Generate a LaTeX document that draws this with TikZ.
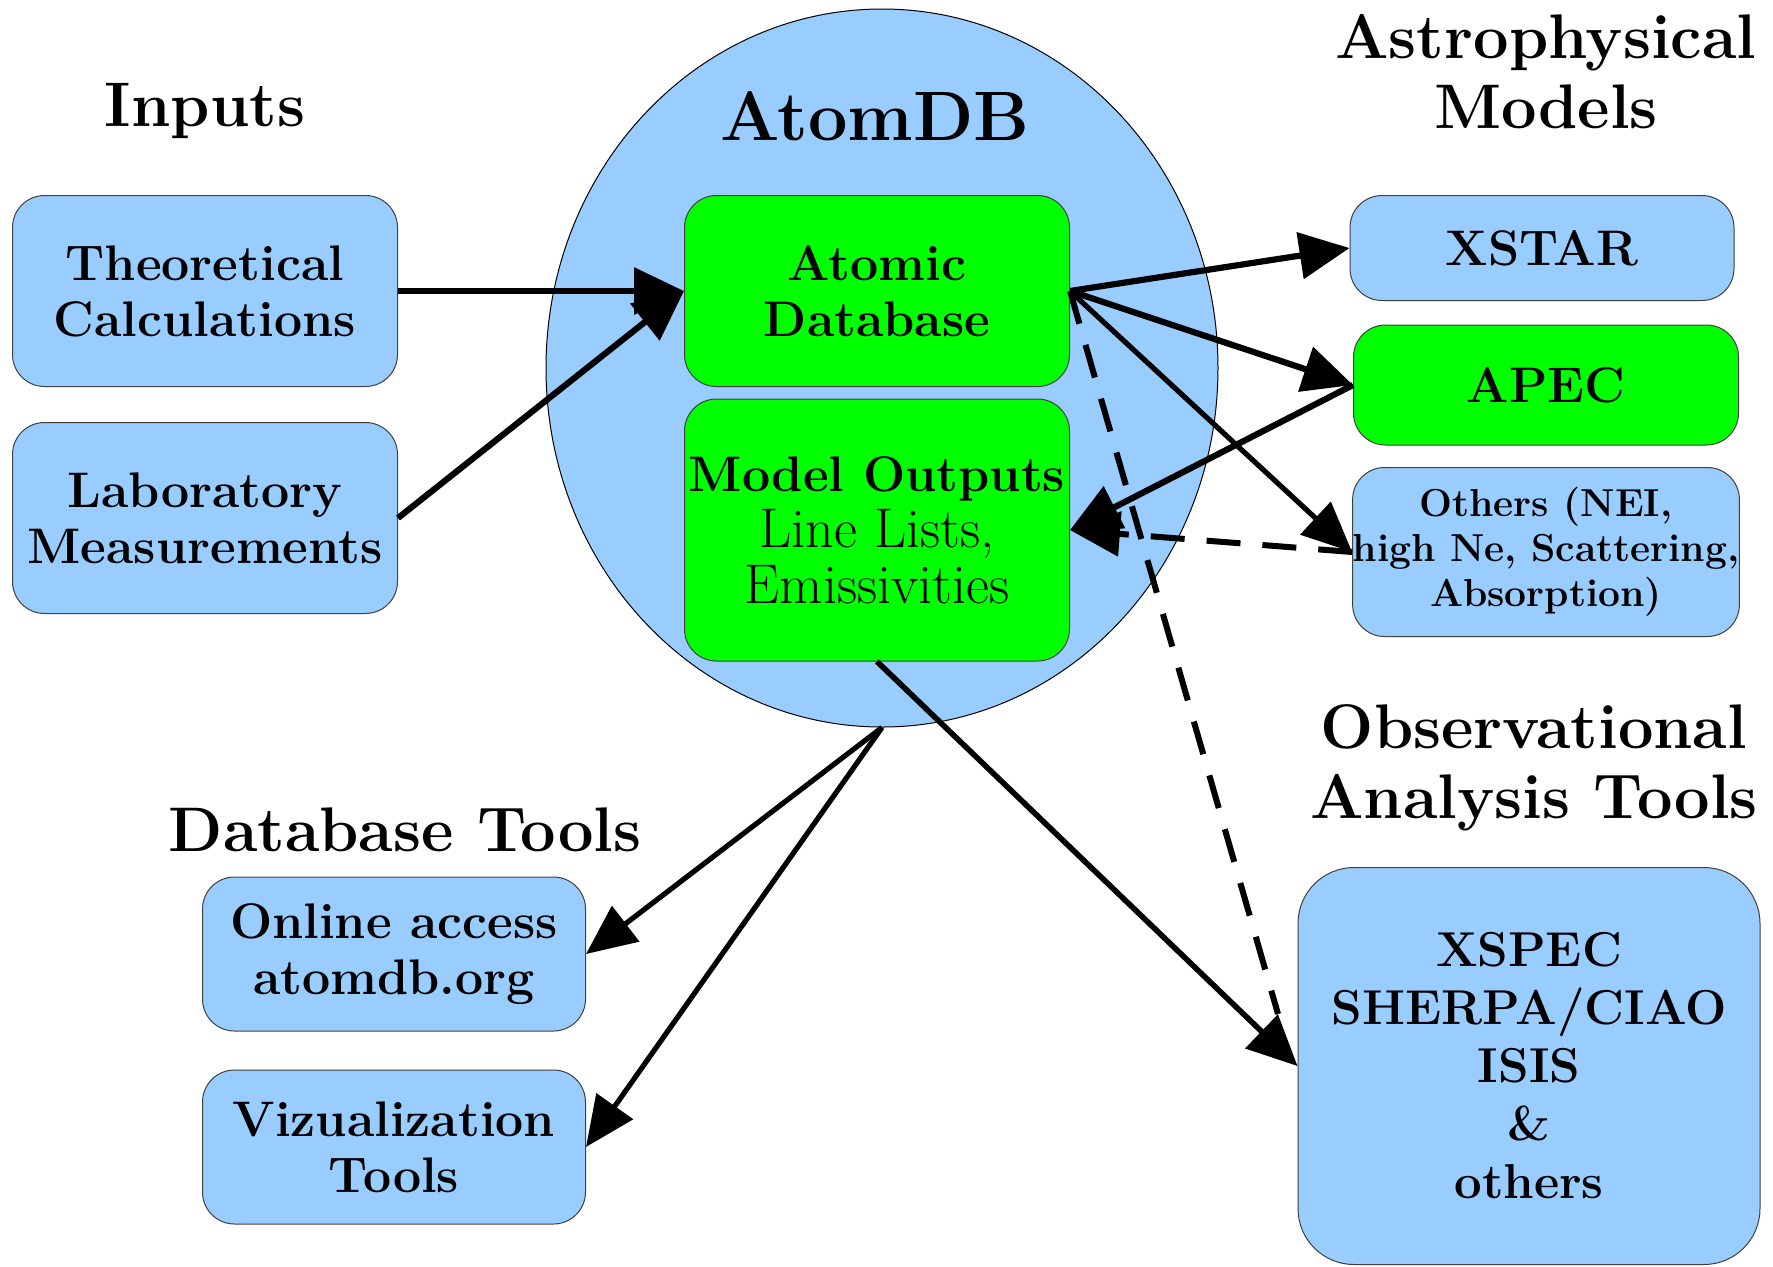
\documentclass[tikz,border=0pt]{standalone}
\usetikzlibrary{arrows.meta,shapes.geometric}
\definecolor{boxblue}{HTML}{99CCFF}
\definecolor{boxgreen}{HTML}{00FF00}
\begin{document}
\begin{tikzpicture}[x=0.5pt,y=-0.5pt,
  every node/.style={inner sep=0pt, align=center},
  boxbase/.style={draw=black!75, line width=0.5pt, rounded corners=16pt,
     font=\fontsize{25}{28}\selectfont\bfseries},
  bluebox/.style={boxbase, fill=boxblue},
  greenbox/.style={boxbase, fill=boxgreen},
  header/.style={font=\fontsize{31.5}{35}\selectfont\bfseries},
  conn/.style={line width=3.1pt, -{Triangle[length=25pt,width=23pt]}},
  thinconn/.style={line width=2.6pt, -{Triangle[length=25pt,width=22pt]}},
  dashconn/.style={line width=3pt, dash pattern=on 17pt off 11pt},
]
\useasboundingbox (0,0) rectangle (1773,1266);
\fill[white] (0,0) rectangle (1773,1266);

% central ellipse
\node[ellipse, draw=black, line width=0.5pt, fill=boxblue,
      minimum width=336pt, minimum height=359pt] (atomdb) at (882,368) {};

% headers
\node[header] (hinputs) at (205,111) {Inputs};
\node[font=\fontsize{35}{40}\selectfont\bfseries] (hatomdb) at (875,116) {AtomDB};
\node[header] (hastro) at (1546,72) {Astrophysical\\Models};
\node[header] (hdbtools) at (405,830) {Database Tools};
\node[header] (hobs) at (1534,768) {Observational\\Analysis Tools};

% input boxes
\node[bluebox, minimum width=192.5pt, minimum height=95.5pt] (theo) at (205,291) {Theoretical\\Calculations};
\node[bluebox, minimum width=192.5pt, minimum height=95.5pt] (lab) at (205,518) {Laboratory\\Measurements};

% AtomDB inner boxes
\node[greenbox, minimum width=192.5pt, minimum height=95.5pt] (atomic) at (877,291) {Atomic\\Database};
\node[greenbox, minimum width=192.5pt, minimum height=131pt] (model) at (877,530)
  {Model Outputs\\\fontsize{28}{28}\selectfont\mdseries Line Lists,\\\fontsize{28}{28}\selectfont\mdseries Emissivities};

% astrophysical models
\node[bluebox, minimum width=192pt, minimum height=52.5pt] (xstar) at (1542,248) {XSTAR};
\node[greenbox, minimum width=192.5pt, minimum height=60pt] (apec) at (1546,385) {APEC};
\node[bluebox, minimum width=192.5pt, minimum height=84.5pt,
      font=\fontsize{19.5}{22.5}\selectfont\bfseries] (others) at (1546,552)
  {Others (NEI,\\high Ne, Scattering,\\Absorption)};

% database tools
\node[bluebox, minimum width=191.5pt, minimum height=77pt] (online) at (394,954) {Online access\\atomdb.org};
\node[bluebox, minimum width=191.5pt, minimum height=77pt] (viz) at (394,1147) {Vizualization\\Tools};

% observational tools
\node[bluebox, rounded corners=28pt, minimum width=231pt, minimum height=198.5pt,
      font=\fontsize{24.5}{29}\selectfont\bfseries] (xspec) at (1529,1066)
  {XSPEC\\SHERPA/CIAO\\ISIS\\\&\\others};

\coordinate (dashend) at (1278,1014);

% connectors
\draw[conn] (theo.east) -- (atomic.west);
\draw[conn] (lab.east) -- (atomic.west);
\draw[conn] (atomic.east) -- (xstar.west);
\draw[conn] (atomic.east) -- (apec.west);
\draw[thinconn] (atomic.east) -- (others.west);
\draw[conn] (apec.west) -- (model.east);
\draw[dashconn, -{Triangle[length=25pt,width=22pt]}] (others.west) -- (model.east);
\draw[dashconn] (atomic.east) -- (dashend);
\draw[conn, line width=2.8pt] (model.south) -- (xspec.west);
\draw[thinconn] (atomdb.south) -- (online.east);
\draw[thinconn] (atomdb.south) -- (viz.east);
\end{tikzpicture}
\end{document}
